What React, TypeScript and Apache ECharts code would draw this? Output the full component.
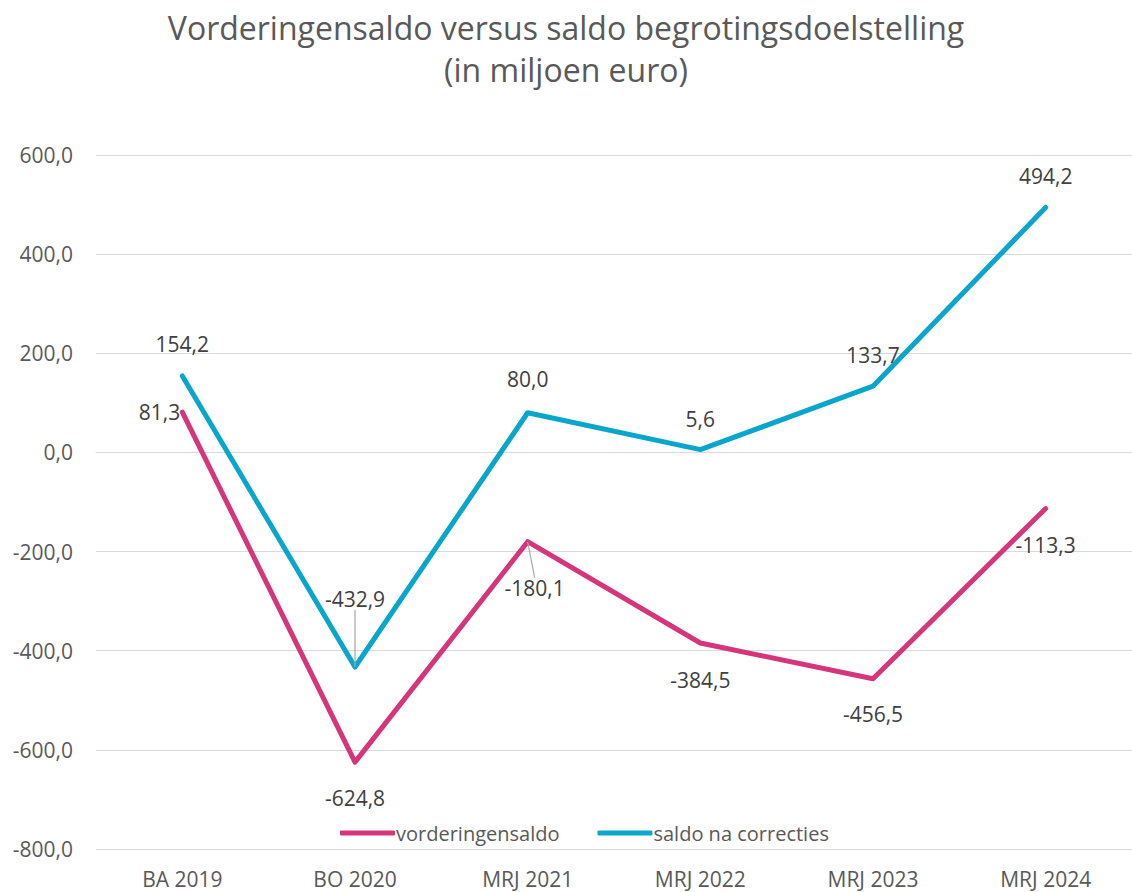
import React, { useEffect, useRef } from "react";
import * as echarts from "echarts";

const categories = ["BA 2019", "BO 2020", "MRJ 2021", "MRJ 2022", "MRJ 2023", "MRJ 2024"];
const vorderingensaldo = [81.3, -624.8, -180.1, -384.5, -456.5, -113.3];
const saldoNaCorrecties = [154.2, -432.9, 80.0, 5.6, 133.7, 494.2];
const yTicks = { min: -800, max: 600, interval: 200 };

const FONT = "'Open Sans', sans-serif";
const PINK = "#D5357A";
const CYAN = "#08A6CA";

const fmt = (v: number) => v.toFixed(1).replace(".", ",");

export default function App() {
  const ref = useRef<HTMLDivElement>(null);
  useEffect(() => {
    document.body.style.margin = "0";
    const chart = echarts.init(ref.current!, null, { renderer: "svg" });
    const labelBase = {
      show: true,
      fontFamily: FONT,
      fontSize: 21,
      color: "#404040",
      formatter: (p: any) => fmt(p.value),
    };
    const vordPos: any[] = [
      { position: "left", distance: 2, offset: [0, 1] },
      { position: "bottom", distance: 25 },
      { position: "bottom", distance: 5 },
      { position: "bottom", distance: 26 },
      { position: "bottom", distance: 25 },
      { position: "bottom", distance: 26, offset: [9, 0] },
    ];
    const saldoPos: any[] = [
      { position: "top", distance: 21 },
      { position: "top", distance: 5 },
      { position: "top", distance: 23 },
      { position: "top", distance: 20 },
      { position: "top", distance: 21, offset: [-14, 0] },
      { position: "top", distance: 21 },
    ];
    const vordLeader = [false, false, true, false, false, false];
    const saldoLeader = [false, true, false, false, false, false];
    const leaderStyle = { color: "#A6A6A6", width: 1.2 };
    chart.setOption({
      animation: false,
      backgroundColor: "#ffffff",
      title: {
        text: "Vorderingensaldo versus saldo begrotingsdoelstelling\n(in miljoen euro)",
        left: "center",
        top: 1,
        textStyle: {
          fontFamily: FONT,
          fontSize: 32,
          fontWeight: "normal",
          color: "#595959",
          lineHeight: 42,
        },
      },
      legend: {
        bottom: 44,
        left: 335,
        itemWidth: 55,
        itemHeight: 5,
        itemGap: 38,
        icon: "roundRect",
        textStyle: { fontFamily: FONT, fontSize: 20, color: "#595959", padding: [0, 0, 0, -4] },
        data: ["vorderingensaldo", "saldo na correcties"],
      },
      grid: { left: 96, width: 1040, top: 155, height: 694 },
      xAxis: {
        type: "category",
        data: categories,
        boundaryGap: true,
        axisLine: { show: true, lineStyle: { color: "#D9D9D9", width: 1 } },
        axisTick: { show: false },
        axisLabel: { fontFamily: FONT, fontSize: 21, color: "#595959", margin: 19 },
      },
      yAxis: {
        type: "value",
        min: yTicks.min,
        max: yTicks.max,
        interval: yTicks.interval,
        axisLine: { show: false },
        axisTick: { show: false },
        splitLine: { lineStyle: { color: "#D9D9D9", width: 1 } },
        axisLabel: {
          fontFamily: FONT,
          fontSize: 21,
          color: "#595959",
          margin: 23,
          formatter: (v: number) => fmt(v),
        },
      },
      series: [
        {
          name: "vorderingensaldo",
          type: "line",
          symbol: "circle",
          symbolSize: 0.1,
          showSymbol: true,
          lineStyle: { width: 5, color: PINK, join: "round", cap: "round" },
          itemStyle: { color: PINK },
          data: vorderingensaldo.map((v, i) => ({
            value: v,
            label: vordPos[i],
            labelLine: { show: vordLeader[i], lineStyle: leaderStyle },
          })),
          label: labelBase,
          labelLine: { show: false, lineStyle: leaderStyle },
          labelLayout: (p: any) => (p.dataIndex === 2 ? { dx: 7, dy: 31 } : {}),
          z: 3,
        },
        {
          name: "saldo na correcties",
          type: "line",
          symbol: "circle",
          symbolSize: 0.1,
          showSymbol: true,
          lineStyle: { width: 5, color: CYAN, join: "round", cap: "round" },
          itemStyle: { color: CYAN },
          data: saldoNaCorrecties.map((v, i) => ({
            value: v,
            label: saldoPos[i],
            labelLine: { show: saldoLeader[i], lineStyle: leaderStyle },
          })),
          label: labelBase,
          labelLine: { show: false, lineStyle: leaderStyle },
          labelLayout: (p: any) => (p.dataIndex === 1 ? { dy: -52 } : {}),
          z: 4,
        },
      ],
    });
    return () => chart.dispose();
  }, []);
  return <div ref={ref} style={{ width: 1132, height: 892 }} />;
}
